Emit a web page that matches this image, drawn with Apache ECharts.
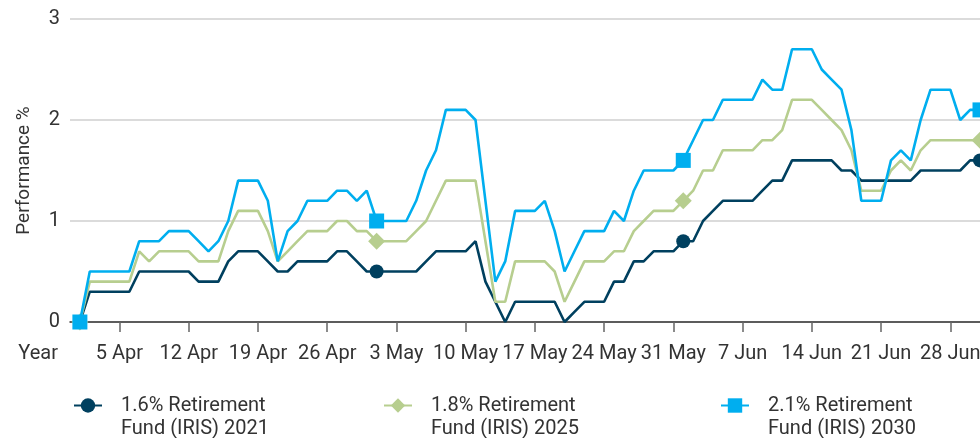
<!DOCTYPE html>
<html>
<head>
<meta charset="utf-8">
<script src="https://cdn.jsdelivr.net/npm/echarts@6/dist/echarts.min.js"></script>
<style>
html,body{margin:0;padding:0;background:#fff;}
#chart{width:980px;height:438px;}
</style>
</head>
<body>
<div id="chart"></div>
<script>
// Categories: one leading slot (31 Mar) then daily 1 Apr .. 1 Jul
const categories = ['31 Mar'];
for (let d = 1; d <= 30; d++) categories.push(d + ' Apr');
for (let d = 1; d <= 31; d++) categories.push(d + ' May');
for (let d = 1; d <= 30; d++) categories.push(d + ' Jun');
categories.push('1 Jul');

const tickLabels = ['5 Apr','12 Apr','19 Apr','26 Apr','3 May','10 May','17 May','24 May','31 May','7 Jun','14 Jun','21 Jun','28 Jun'];
const yTicks = [0, 1, 2, 3];

const seriesNames = ['1.6% Retirement\nFund (IRIS) 2021', '1.8% Retirement\nFund (IRIS) 2025', '2.1% Retirement\nFund (IRIS) 2030'];

// Values from 1 Apr to 1 Jul (daily)
const fund2021 = [0,0.3,0.3,0.3,0.3,0.3,0.5,0.5,0.5,0.5,0.5,0.5,0.4,0.4,0.4,0.6,0.7,0.7,0.7,0.6,
  0.5,0.5,0.6,0.6,0.6,0.6,0.7,0.7,0.6,0.5,0.5,0.5,0.5,0.5,0.5,0.6,0.7,0.7,0.7,0.7,
  0.8,0.4,0.2,0,0.2,0.2,0.2,0.2,0.2,0,0.1,0.2,0.2,0.2,0.4,0.4,0.6,0.6,0.7,0.7,
  0.7,0.8,0.8,1.0,1.1,1.2,1.2,1.2,1.2,1.3,1.4,1.4,1.6,1.6,1.6,1.6,1.6,1.5,1.5,1.4,
  1.4,1.4,1.4,1.4,1.4,1.5,1.5,1.5,1.5,1.5,1.6,1.6];
const fund2025 = [0,0.4,0.4,0.4,0.4,0.4,0.7,0.6,0.7,0.7,0.7,0.7,0.6,0.6,0.6,0.9,1.1,1.1,1.1,0.9,
  0.6,0.7,0.8,0.9,0.9,0.9,1.0,1.0,0.9,0.9,0.8,0.8,0.8,0.8,0.9,1.0,1.2,1.4,1.4,1.4,
  1.4,0.8,0.2,0.2,0.6,0.6,0.6,0.6,0.5,0.2,0.4,0.6,0.6,0.6,0.7,0.7,0.9,1.0,1.1,1.1,
  1.1,1.2,1.3,1.5,1.5,1.7,1.7,1.7,1.7,1.8,1.8,1.9,2.2,2.2,2.2,2.1,2.0,1.9,1.7,1.3,
  1.3,1.3,1.5,1.6,1.5,1.7,1.8,1.8,1.8,1.8,1.8,1.8];
const fund2030 = [0,0.5,0.5,0.5,0.5,0.5,0.8,0.8,0.8,0.9,0.9,0.9,0.8,0.7,0.8,1.0,1.4,1.4,1.4,1.2,
  0.6,0.9,1.0,1.2,1.2,1.2,1.3,1.3,1.2,1.3,1.0,1.0,1.0,1.0,1.2,1.5,1.7,2.1,2.1,2.1,
  2.0,1.2,0.4,0.6,1.1,1.1,1.1,1.2,0.9,0.5,0.7,0.9,0.9,0.9,1.1,1.0,1.3,1.5,1.5,1.5,
  1.5,1.6,1.8,2.0,2.0,2.2,2.2,2.2,2.2,2.4,2.3,2.3,2.7,2.7,2.7,2.5,2.4,2.3,1.9,1.2,
  1.2,1.2,1.6,1.7,1.6,2.0,2.3,2.3,2.3,2.0,2.1,2.1];

const markerDays = [0, 30, 61, 91]; // 1 Apr, 1 May, 1 Jun, 1 Jul

const colors = ['#00405f', '#b7ce8f', '#00aeef'];
const symbols = ['circle', 'diamond', 'rect'];
const symbolSizes = [14, 17, 15];
const FONT = 'Roboto, "Noto Sans", sans-serif';

const chart = echarts.init(document.getElementById('chart'), null, {renderer: 'canvas'});

const allSeries = [fund2021, fund2025, fund2030];
const series = allSeries.map((vals, s) => ({
  name: seriesNames[s],
  type: 'line',
  data: [null].concat(vals),
  symbol: symbols[s],
  symbolSize: (v, p) => markerDays.includes(p.dataIndex - 1) ? symbolSizes[s] : 0,
  showAllSymbol: true,
  lineStyle: {width: 2.6, color: colors[s]},
  itemStyle: {color: colors[s]},
  emphasis: {disabled: true},
  z: 2 + s
}));

const legendLefts = [73, 383, 720];
const legends = seriesNames.map((n, s) => ({
  data: [n],
  left: legendLefts[s],
  top: 371,
  padding: 0,
  itemWidth: 28,
  itemHeight: 18,
  selectedMode: false,
  formatter: name => '\n' + name,
  textStyle: {fontFamily: FONT, fontSize: 20, color: '#333', lineHeight: 23, padding: [0, 0, 0, 14]}
}));

chart.setOption({
  animation: false,
  color: colors,
  grid: {left: 70, right: 0, top: 19, bottom: 116, containLabel: false, outerBoundsMode: 'none'},
  legend: legends,
  xAxis: {
    type: 'category',
    data: categories,
    boundaryGap: false,
    name: 'Year',
    nameLocation: 'start',
    nameGap: 12,
    nameTextStyle: {fontFamily: FONT, fontSize: 20, color: '#333', verticalAlign: 'top', padding: [22, 0, 0, 0]},
    axisLine: {show: true, lineStyle: {color: '#333', width: 1.5}},
    axisTick: {show: true, length: 10, interval: (i, v) => tickLabels.includes(v), lineStyle: {color: '#666', width: 1.5}},
    axisLabel: {interval: (i, v) => tickLabels.includes(v), margin: 22, fontFamily: FONT, fontSize: 20, color: '#333'},
    splitLine: {show: false}
  },
  yAxis: {
    type: 'value',
    min: yTicks[0],
    max: yTicks[yTicks.length - 1],
    interval: 1,
    name: 'Performance %',
    nameLocation: 'middle',
    nameRotate: 90,
    nameGap: 36,
    nameTextStyle: {fontFamily: FONT, fontSize: 19, color: '#333'},
    axisLine: {show: false},
    axisTick: {show: false},
    axisLabel: {margin: 10, fontFamily: FONT, fontSize: 20, color: '#333'},
    splitLine: {lineStyle: {color: '#cfcfcf', width: 1.5}}
  },
  series: series
});
</script>
</body>
</html>
